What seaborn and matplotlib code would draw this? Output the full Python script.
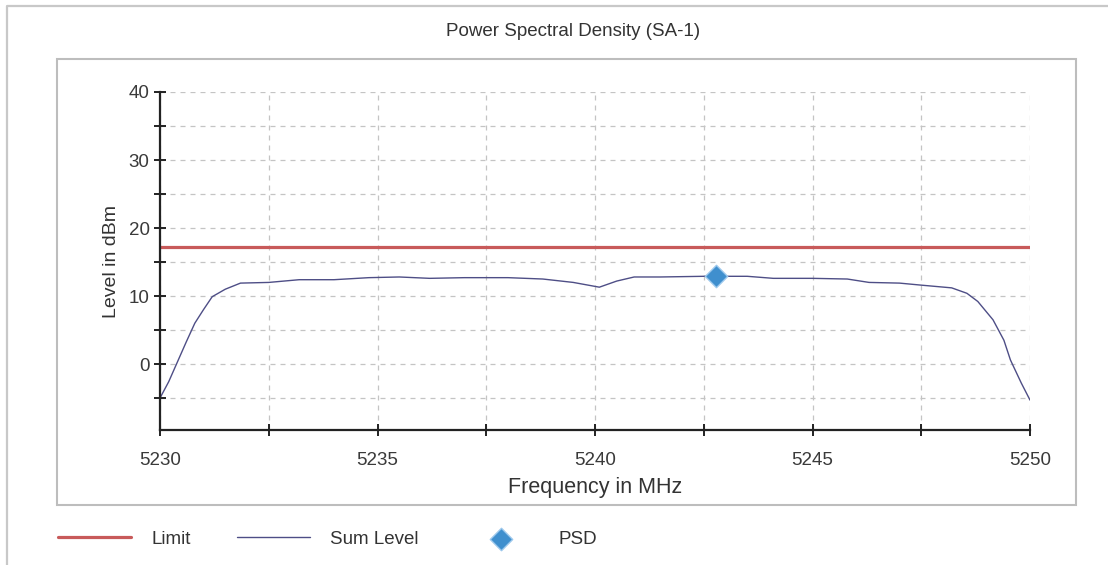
import numpy as np
import pandas as pd
import matplotlib
matplotlib.use("Agg")
import matplotlib.pyplot as plt
from matplotlib.patches import Rectangle
from matplotlib.lines import Line2D
from matplotlib.ticker import MultipleLocator
import seaborn as sns

# ------------------------------
# Data
# ------------------------------
freq_mhz = [5230.0, 5230.2, 5230.4, 5230.6, 5230.8, 5231.0, 5231.2, 5231.5,
            5231.85, 5232.5, 5233.2, 5234.0, 5234.8, 5235.5, 5236.2, 5237.0,
            5238.0, 5238.8, 5239.5, 5240.1, 5240.5, 5240.9, 5241.5, 5242.5,
            5243.5, 5244.1, 5245.0, 5245.8, 5246.3, 5247.0, 5247.5, 5248.2,
            5248.55, 5248.8, 5249.15, 5249.4, 5249.55, 5249.8, 5250.0]
sum_level = [-5.0, -2.6, 0.3, 3.2, 6.0, 8.0, 9.9, 11.0,
             11.9, 12.0, 12.4, 12.4, 12.7, 12.8, 12.6, 12.7,
             12.7, 12.5, 12.0, 11.3, 12.2, 12.8, 12.8, 12.9,
             12.9, 12.6, 12.6, 12.5, 12.0, 11.9, 11.6, 11.2,
             10.4, 9.2, 6.5, 3.5, 0.6, -2.8, -5.3]
limit_level = 17.2
psd_freq = [5242.78]
psd_level = [12.95]

x_range = (5230, 5250)
y_range = (-9.7, 40)

df_sum = pd.DataFrame({"freq": freq_mhz, "level": sum_level})
df_limit = pd.DataFrame({"freq": list(x_range), "level": [limit_level] * 2})
df_psd = pd.DataFrame({"freq": psd_freq, "level": psd_level})

# ------------------------------
# Plot
# ------------------------------
sns.set_style("white")
plt.rcParams["font.family"] = ["Liberation Sans", "DejaVu Sans"]

W, H = 1108, 565
fig = plt.figure(figsize=(W / 100, H / 100), dpi=100)

# outer panel edges (left and top) and inner chart box
fig.add_artist(Line2D([7 / W, 7 / W, 1.0], [0.0, 1 - 6 / H, 1 - 6 / H],
                      transform=fig.transFigure, color="#c8c8c8", linewidth=1.6))
fig.patches.append(Rectangle((57 / W, 1 - 505 / H), (1076 - 57) / W, (505 - 59) / H,
                             transform=fig.transFigure, fill=False,
                             edgecolor="#bdbdbd", linewidth=1.5))

ax = fig.add_axes([160 / W, 1 - 430 / H, (1030 - 160) / W, (430 - 92) / H])

sns.lineplot(data=df_limit, x="freq", y="level", ax=ax, color="#c85a5a",
             linewidth=2.3, label="Limit")
sns.lineplot(data=df_sum, x="freq", y="level", ax=ax, color="#4e4e86",
             linewidth=1.0, label="Sum Level", sort=False)
sns.scatterplot(data=df_psd, x="freq", y="level", ax=ax, marker="D",
                s=130, color="#3f8fce", edgecolor="#9cc8ec", linewidth=1,
                label="PSD", zorder=5)

ax.set_xlim(*x_range)
ax.set_ylim(*y_range)
ax.xaxis.set_major_locator(MultipleLocator(5))
ax.xaxis.set_minor_locator(MultipleLocator(2.5))
ax.yaxis.set_major_locator(MultipleLocator(10))
ax.yaxis.set_minor_locator(MultipleLocator(5))

ax.grid(True, which="both", linestyle=(0, (4, 4)), color="#c4c4c4", linewidth=0.9)
ax.set_axisbelow(True)
for side in ["top", "right"]:
    ax.spines[side].set_visible(False)
for side in ["left", "bottom"]:
    ax.spines[side].set_color("#222222")
    ax.spines[side].set_linewidth(1.6)

ax.tick_params(axis="both", which="both", direction="inout", length=9,
               width=1.4, color="#222222", labelsize=13.5, labelcolor="#3a3a3a",
               bottom=True, left=True)
ax.tick_params(axis="x", which="both", pad=11)
ax.tick_params(axis="y", which="both", pad=3)

ax.set_xlabel("Frequency in MHz", fontsize=15.5, color="#333333", labelpad=6)
ax.set_ylabel("Level in dBm", fontsize=14, color="#333333", labelpad=6)

fig.text(573 / W, 1 - 31 / H, "Power Spectral Density (SA-1)", ha="center",
         va="center", fontsize=13.5, color="#333333")

handles, labels = ax.get_legend_handles_labels()
ax.get_legend().remove()
fig.legend(handles, labels, loc="center left",
           bbox_to_anchor=(52 / W, 1 - 539 / H), ncol=3, frameon=False,
           fontsize=13.5, handlelength=3.9, handletextpad=1.1,
           columnspacing=2.45, scatterpoints=1, labelcolor="#333333",
           borderaxespad=0, borderpad=0.3)

fig.savefig("out.png", dpi=100, facecolor="white")
